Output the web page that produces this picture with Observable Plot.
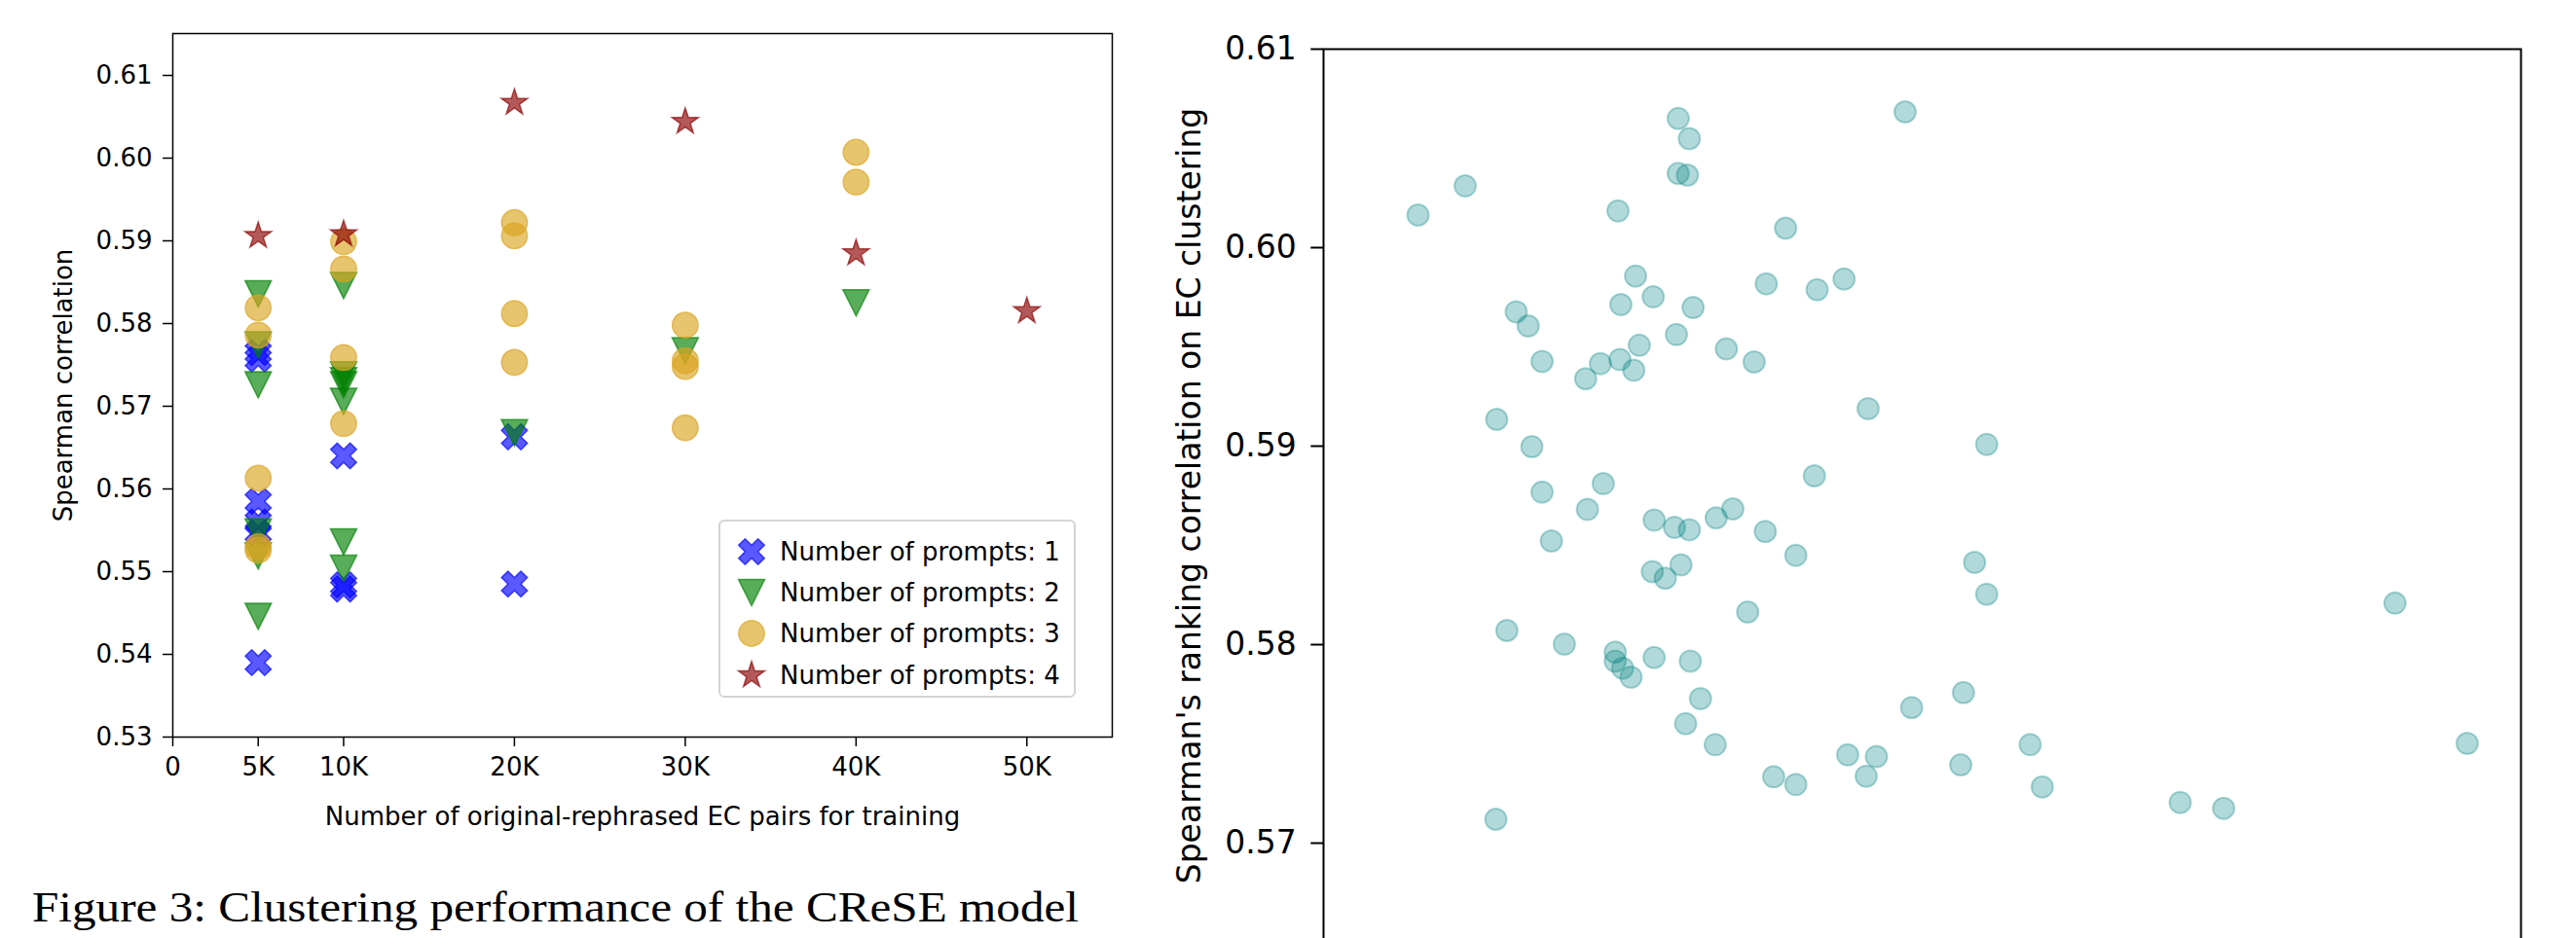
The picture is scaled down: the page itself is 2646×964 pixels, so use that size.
<!DOCTYPE html>
<html><head><meta charset="utf-8">
<script src="https://cdn.jsdelivr.net/npm/d3@7"></script>
<script src="https://cdn.jsdelivr.net/npm/@observablehq/plot@0.6"></script>
<style>
html,body{margin:0;padding:0;background:#fff;overflow:hidden;width:2646px;height:964px;}
#root{position:relative;width:2646px;height:964px;overflow:hidden;}
.abs{position:absolute;}
svg{max-width:none !important;}
#legend{position:absolute;left:738px;top:534px;width:367px;height:183px;border:2px solid #d4d4d4;border-radius:6px;background:rgba(255,255,255,0.8);box-sizing:border-box;}
.lrow{position:absolute;left:0;height:40px;display:flex;align-items:center;font-family:'DejaVu Sans';font-size:26px;color:#000;white-space:nowrap;}
</style></head><body><div id="root"></div>
<script>
// ---------- Left panel data ----------
const pairsP1 = [5000, 5000, 5000, 5000, 5000, 5000, 10000, 10000, 10000, 20000, 20000];
const corrP1  = [0.5765, 0.5757, 0.5585, 0.5560, 0.5547, 0.5390, 0.5640, 0.5484, 0.5479, 0.5663, 0.5485];
const pairsP2 = [5000, 5000, 5000, 5000, 5000, 5000, 10000, 10000, 10000, 10000, 10000, 10000, 10000, 20000, 30000, 40000];
const corrP2  = [0.5836, 0.5774, 0.5726, 0.5548, 0.5519, 0.5446, 0.5846, 0.5738, 0.5731, 0.5726, 0.5706, 0.5536, 0.5504, 0.5668, 0.5767, 0.5825];
const pairsP3 = [5000, 5000, 5000, 5000, 5000, 10000, 10000, 10000, 10000, 20000, 20000, 20000, 20000, 30000, 30000, 30000, 30000, 40000, 40000];
const corrP3  = [0.5819, 0.5786, 0.5613, 0.5530, 0.5526, 0.5899, 0.5866, 0.5759, 0.5679, 0.5922, 0.5906, 0.5812, 0.5753, 0.5798, 0.5755, 0.5748, 0.5674, 0.6007, 0.5971];
const pairsP4 = [5000, 10000, 20000, 30000, 40000, 50000];
const corrP4  = [0.5906, 0.5908, 0.6067, 0.6044, 0.5885, 0.5815];
const seriesLabels = ["Number of prompts: 1", "Number of prompts: 2", "Number of prompts: 3", "Number of prompts: 4"];
const xTicksLeft = [0, 5000, 10000, 20000, 30000, 40000, 50000];
const xTickLabelsLeft = ["0", "5K", "10K", "20K", "30K", "40K", "50K"];
const yTicksLeft = [0.53, 0.54, 0.55, 0.56, 0.57, 0.58, 0.59, 0.60, 0.61];
const xLabelLeft = "Number of original-rephrased EC pairs for training";
const yLabelLeft = "Spearman correlation";
const captionText = "Figure 3: Clustering performance of the CReSE model";

// ---------- Right panel data ----------
const rightX = [7.89, 11.83, 24.59, 29.62, 30.55, 29.62, 30.39, 48.57, 38.59, 26.06,
  24.83, 27.53, 30.86, 36.97, 41.22, 43.47, 16.09, 17.09, 18.25, 21.89,
  23.12, 24.75, 25.91, 26.37, 29.47, 33.64, 35.96, 45.48, 14.46, 17.40,
  55.38, 18.25, 23.36, 22.04, 19.03, 27.61, 29.31, 30.55, 32.79, 34.18,
  36.89, 40.99, 39.44, 27.46, 28.54, 29.85, 54.37, 55.38, 35.42, 89.48,
  15.31, 20.11, 24.36, 24.36, 24.98, 25.68, 27.61, 30.63, 31.48, 30.24,
  32.71, 53.44, 49.11, 43.77, 46.17, 45.32, 37.59, 39.44, 53.21, 59.01,
  60.02, 71.54, 75.17, 95.51, 14.39];
const rightY = [0.60164, 0.60311, 0.60185, 0.60651, 0.60549, 0.60374, 0.60365, 0.60684, 0.60098, 0.59857,
  0.59713, 0.59752, 0.59698, 0.59818, 0.59788, 0.59842, 0.59677, 0.59605, 0.59427, 0.59340,
  0.59415, 0.59436, 0.59382, 0.59508, 0.59562, 0.59490, 0.59424, 0.59189, 0.59135, 0.58997,
  0.59009, 0.58768, 0.58811, 0.58681, 0.58522, 0.58627, 0.58591, 0.58579, 0.58639, 0.58684,
  0.58570, 0.58850, 0.58450, 0.58368, 0.58335, 0.58402, 0.58414, 0.58254, 0.58164, 0.58209,
  0.58071, 0.58002, 0.57962, 0.57917, 0.57881, 0.57836, 0.57935, 0.57917, 0.57728, 0.57602,
  0.57496, 0.57758, 0.57683, 0.57445, 0.57436, 0.57337, 0.57334, 0.57295, 0.57394, 0.57496,
  0.57283, 0.57205, 0.57175, 0.57502, 0.57120];
const yTicksRight = [0.57, 0.58, 0.59, 0.60, 0.61];
const yLabelRight = "Spearman's ranking correlation on EC clustering";

// ---------- custom matplotlib-like symbols ----------
const rOf = s => Math.sqrt(s / Math.PI);
const triDown = {draw(ctx, size) { const r = rOf(size); ctx.moveTo(0, r); ctx.lineTo(-r, -r); ctx.lineTo(r, -r); ctx.closePath(); }};
const xFilled = {draw(ctx, size) {
  const k = rOf(size) * 2;
  const pts = [[-0.25,-0.5],[0,-0.25],[0.25,-0.5],[0.5,-0.25],[0.25,0],[0.5,0.25],[0.25,0.5],[0,0.25],[-0.25,0.5],[-0.5,0.25],[-0.25,0],[-0.5,-0.25]];
  pts.forEach(([a, b], i) => i ? ctx.lineTo(a * k, b * k) : ctx.moveTo(a * k, b * k));
  ctx.closePath();
}};
const star5 = {draw(ctx, size) {
  const R = rOf(size), ri = R * 0.381966;
  for (let i = 0; i < 10; i++) {
    const a = i * Math.PI / 5, rr = i % 2 ? ri : R;
    const x = rr * Math.sin(a), y = -rr * Math.cos(a);
    i ? ctx.lineTo(x, y) : ctx.moveTo(x, y);
  }
  ctx.closePath();
}};
const circ = {draw(ctx, size) { const r = rOf(size); ctx.moveTo(r, 0); ctx.arc(0, 0, r, 0, 2 * Math.PI); }};

const series = [
  {pairs: pairsP1, corr: corrP1, symbol: xFilled, color: "#0000ff", r: 13.3},
  {pairs: pairsP2, corr: corrP2, symbol: triDown, color: "#008000", r: 13.5},
  {pairs: pairsP3, corr: corrP3, symbol: circ, color: "#daa520", r: 13.2},
  {pairs: pairsP4, corr: corrP4, symbol: star5, color: "#8b0000", r: 14.2}
];
const ALPHA = 0.65;

const root = document.getElementById("root");

// ---------- Left chart ----------
const dotMarks = series.map((s, k) => Plot.dot(s.pairs.map((p, i) => ({pairs: p, corr: s.corr[i]})), {
  x: "pairs", y: "corr", symbol: s.symbol, r: s.r,
  fill: s.color, fillOpacity: ALPHA, stroke: s.color, strokeOpacity: ALPHA, strokeWidth: 1.5
}));

const left = Plot.plot({
  width: 1150, height: 870,
  marginLeft: 177, marginRight: 8, marginTop: 34, marginBottom: 113,
  x: {domain: [0, 55000]},
  y: {domain: [0.53, 0.61506]},
  style: {fontFamily: "'DejaVu Sans'", fontSize: "26px", color: "#000", background: "transparent", overflow: "visible"},
  marks: [
    Plot.axisY(yTicksLeft, {tickFormat: d3.format(".2f"), tickSize: 10, tickPadding: 11, strokeWidth: 1.5,
      label: yLabelLeft, labelAnchor: "center", labelArrow: "none", labelOffset: 122, fontSize: 26}),
    Plot.axisX(xTicksLeft, {tickFormat: d => xTickLabelsLeft[xTicksLeft.indexOf(d)], tickSize: 10, tickPadding: 11, strokeWidth: 1.5,
      label: xLabelLeft, labelAnchor: "center", labelArrow: "none", labelOffset: 90, fontSize: 26}),
    ...dotMarks,
    Plot.frame({stroke: "#000", strokeWidth: 1.5})
  ]
});
const leftWrap = document.createElement("div");
leftWrap.className = "abs"; leftWrap.style.left = "0px"; leftWrap.style.top = "0px"; leftWrap.style.width = "1150px";
leftWrap.appendChild(left);
root.appendChild(leftWrap);

// legend
const legend = document.createElement("div");
legend.id = "legend";
series.forEach((s, k) => {
  const row = document.createElement("div");
  row.className = "lrow";
  row.style.top = (11 + k * 42.2) + "px";
  const sz = 40;
  const svg = d3.create("svg").attr("width", sz).attr("height", sz).style("margin-left", "12px").style("margin-right", "9px");
  const p = d3.path();
  s.symbol.draw(p, s.r * s.r * Math.PI);
  svg.append("path").attr("transform", `translate(${sz/2},${sz/2})`).attr("d", p.toString())
    .attr("fill", s.color).attr("fill-opacity", ALPHA).attr("stroke", s.color).attr("stroke-opacity", ALPHA).attr("stroke-width", 1.5);
  row.appendChild(svg.node());
  const t = document.createElement("span");
  t.textContent = seriesLabels[k];
  row.appendChild(t);
  legend.appendChild(row);
});
root.appendChild(legend);

// caption
const cap = d3.create("svg").attr("width", 1150).attr("height", 110).style("position", "absolute").style("left", "0px").style("top", "860px");
cap.append("text").attr("x", 33).attr("y", 87).attr("font-family", "'Liberation Serif', 'Times New Roman', serif")
  .attr("font-size", 44).attr("textLength", 1075).attr("lengthAdjust", "spacingAndGlyphs").attr("fill", "#000").text(captionText);
root.appendChild(cap.node());

// ---------- Right chart ----------
const right = Plot.plot({
  width: 1486, height: 970,
  marginLeft: 199, marginRight: 57, marginTop: 50, marginBottom: 2,
  x: {domain: [0, 100], axis: null},
  y: {domain: [0.565, 0.61], axis: null},
  style: {fontFamily: "'DejaVu Sans'", fontSize: "33px", color: "#000", background: "transparent", overflow: "visible"},
  marks: [
    Plot.axisY(yTicksRight, {tickFormat: d3.format(".2f"), tickSize: 12.7, tickPadding: 15, strokeWidth: 2,
      label: yLabelRight, labelAnchor: "center", labelArrow: "none", labelOffset: 150, fontSize: 33}),
    Plot.dot(rightX.map((x, i) => ({x, y: rightY[i]})), {x: "x", y: "y", r: 11,
      fill: "#008080", fillOpacity: 0.3, stroke: "#008080", strokeOpacity: 0.3, strokeWidth: 2}),
    Plot.frame({stroke: "#000", strokeWidth: 2})
  ]
});
const rightWrap = document.createElement("div");
rightWrap.className = "abs"; rightWrap.style.left = "1160px"; rightWrap.style.top = "0px"; rightWrap.style.width = "1486px";
rightWrap.appendChild(right);
root.appendChild(rightWrap);
</script></body></html>
